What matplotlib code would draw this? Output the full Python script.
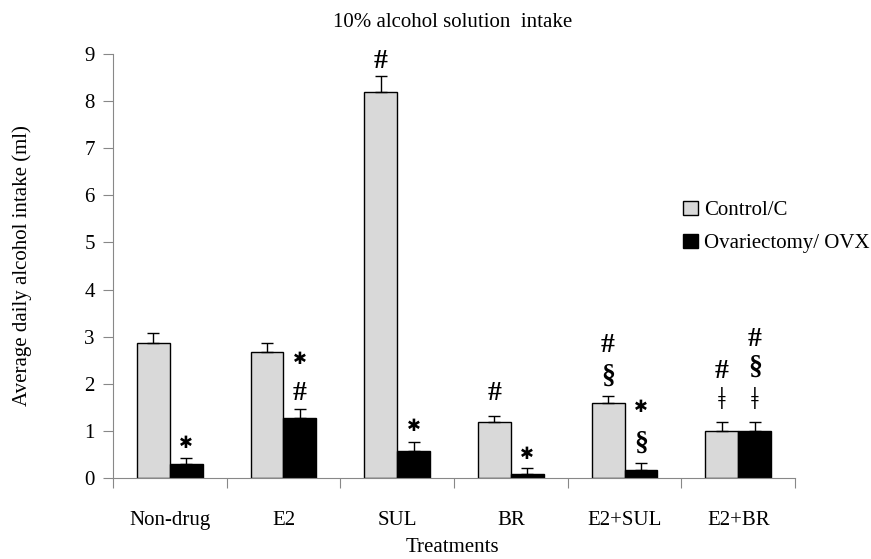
import numpy as np
from matplotlib import pyplot as plt

plt.rcParams['font.family'] = ['Liberation Serif', 'DejaVu Serif', 'DejaVu Sans']

categories = ['Non-drug', 'E2', 'SUL', 'BR', 'E2+SUL', 'E2+BR']
control = [2.87, 2.67, 8.20, 1.19, 1.60, 1.00]
control_err = [0.20, 0.20, 0.33, 0.13, 0.15, 0.19]
ovx = [0.30, 1.28, 0.57, 0.09, 0.18, 1.00]
ovx_err = [0.13, 0.18, 0.19, 0.12, 0.14, 0.19]

# significance marks: (category index, 0 = control / 1 = ovx, symbol, y)
marks = [
    (0, 1, '*', 0.75),
    (1, 1, '*', 2.52), (1, 1, '#', 1.80),
    (2, 0, '#', 8.84), (2, 1, '*', 1.10),
    (3, 0, '#', 1.80), (3, 1, '*', 0.52),
    (4, 0, '#', 2.82), (4, 0, '§', 2.15), (4, 1, '*', 1.50), (4, 1, '§', 0.74),
    (5, 0, '#', 2.26), (5, 0, 'ǂ', 1.62),
    (5, 1, '#', 2.93), (5, 1, '§', 2.36), (5, 1, 'ǂ', 1.62),
]

fig = plt.figure(figsize=(8.71, 5.59), dpi=100)
ax = fig.add_axes([0.1297, 0.1449, 0.9128 - 0.1297, 0.9034 - 0.1449])

x = np.arange(len(categories))
w = 0.29
zeros = np.zeros(len(categories))
ax.bar(x - w / 2, control, w, color='#d9d9d9', edgecolor='black', linewidth=1,
       yerr=[zeros, control_err], error_kw=dict(ecolor='black', elinewidth=1, capsize=4, capthick=1),
       label='Control/C')
ax.bar(x + w / 2, ovx, w, color='black', edgecolor='black', linewidth=1,
       yerr=[zeros, ovx_err], error_kw=dict(ecolor='black', elinewidth=1, capsize=4, capthick=1),
       label='Ovariectomy/ OVX')

for i, s, sym, y in marks:
    xx = i - w / 2 if s == 0 else i + w / 2
    if sym == '*':
        ax.text(xx, y, '✱', ha='center', va='center', fontsize=12,
                family=['DejaVu Sans'])
    elif sym == 'ǂ':
        ax.text(xx, y, sym, ha='center', va='center', fontsize=22,
                family=['Liberation Serif', 'DejaVu Sans'])
    else:
        ax.text(xx, y, sym, ha='center', va='center', fontsize=20, fontweight='bold',
                family=['Liberation Serif', 'DejaVu Sans'])

ax.set_xlim(-0.5, len(categories) - 0.5)
ax.set_ylim(0, 9)
ax.set_yticks(range(10))
ax.set_xticks(np.arange(-0.5, len(categories)), [])
ax.set_xticks(x, categories, minor=True)
ax.tick_params(axis='x', which='major', length=7, color='#888888')
ax.tick_params(axis='x', which='minor', length=0, pad=24, labelsize=15)
ax.tick_params(axis='y', length=7, color='#888888', pad=6, labelsize=15)

for side in ['top', 'right']:
    ax.spines[side].set_visible(False)
for side in ['left', 'bottom']:
    ax.spines[side].set_color('#888888')

ax.set_ylabel('Average daily alcohol intake (ml)', fontsize=15)
ax.yaxis.set_label_coords(-0.119, 0.5)
fig.text(0.52, 0.012, 'Treatments', ha='center', va='baseline', fontsize=15)
fig.text(0.52, 0.96, '10% alcohol solution  intake', ha='center', va='center', fontsize=15)

ax.legend(loc='upper left', bbox_to_anchor=(0.775, 0.656), bbox_transform=fig.transFigure,
          frameon=False, fontsize=15, handlelength=0.7, handleheight=0.7,
          handletextpad=0.3, labelspacing=0.65, borderaxespad=0)

fig.savefig('out.png', dpi=100)
